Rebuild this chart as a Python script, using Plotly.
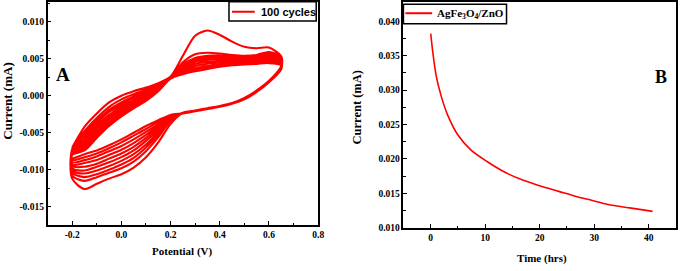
import plotly.graph_objects as go

# ---------------- Panel A: cyclic voltammetry (100 cycles) ----------------
E_forward = [-0.20, -0.15, -0.10, -0.05, 0.00, 0.05, 0.10, 0.15, 0.20,
             0.25, 0.30, 0.35, 0.40, 0.45, 0.50, 0.55, 0.60, 0.65]
E_reverse = [0.65, 0.60, 0.55, 0.50, 0.45, 0.40, 0.35, 0.30, 0.25,
             0.20, 0.15, 0.10, 0.05, 0.00, -0.05, -0.10, -0.15, -0.20]

c1_fwd = [-0.0070, -0.0042, -0.0024, -0.0009, 0.0000, 0.0006, 0.0011, 0.0017, 0.0026,
          0.0054, 0.0081, 0.0088, 0.0082, 0.0073, 0.0066, 0.0064, 0.0065, 0.0053]
c1_rev = [0.0040, 0.0020, 0.0007, -0.0003, -0.0010, -0.0014, -0.0017, -0.0020, -0.0023,
          -0.0038, -0.0063, -0.0083, -0.0097, -0.0106, -0.0112, -0.0119, -0.0126, -0.0112]
c2_fwd = [-0.0072, -0.0048, -0.0030, -0.0015, -0.0005, 0.0002, 0.0008, 0.0015, 0.0025,
          0.0045, 0.0056, 0.0058, 0.0057, 0.0055, 0.0054, 0.0055, 0.0059, 0.0052]
c2_rev = [0.0040, 0.0020, 0.0007, -0.0003, -0.0010, -0.0014, -0.0017, -0.0020, -0.0023,
          -0.0034, -0.0056, -0.0075, -0.0089, -0.0098, -0.0104, -0.0110, -0.0115, -0.0108]
c3_fwd = [-0.0073, -0.0052, -0.0034, -0.0019, -0.0009, -0.0001, 0.0006, 0.0014, 0.0025,
          0.0042, 0.0051, 0.0054, 0.0054, 0.0053, 0.0053, 0.0054, 0.0057, 0.0051]
c3_rev = [0.0039, 0.0020, 0.0007, -0.0003, -0.0010, -0.0014, -0.0017, -0.0020, -0.0023,
          -0.0032, -0.0052, -0.0070, -0.0084, -0.0093, -0.0100, -0.0106, -0.0110, -0.0104]
c4_fwd = [-0.0074, -0.0055, -0.0037, -0.0022, -0.0012, -0.0003, 0.0004, 0.0013, 0.0025,
          0.0040, 0.0048, 0.0051, 0.0052, 0.0051, 0.0051, 0.0052, 0.0055, 0.0050]
c4_rev = [0.0039, 0.0019, 0.0006, -0.0003, -0.0010, -0.0014, -0.0017, -0.0020, -0.0023,
          -0.0031, -0.0049, -0.0066, -0.0079, -0.0088, -0.0095, -0.0101, -0.0105, -0.0101]
c6_fwd = [-0.0075, -0.0059, -0.0041, -0.0026, -0.0015, -0.0006, 0.0002, 0.0012, 0.0024,
          0.0038, 0.0046, 0.0049, 0.0050, 0.0049, 0.0050, 0.0051, 0.0053, 0.0048]
c6_rev = [0.0038, 0.0019, 0.0006, -0.0004, -0.0010, -0.0014, -0.0017, -0.0020, -0.0023,
          -0.0030, -0.0046, -0.0061, -0.0074, -0.0083, -0.0090, -0.0096, -0.0101, -0.0098]
c10_fwd = [-0.0076, -0.0062, -0.0044, -0.0029, -0.0018, -0.0008, 0.0000, 0.0011, 0.0024,
           0.0036, 0.0043, 0.0046, 0.0047, 0.0048, 0.0048, 0.0049, 0.0051, 0.0047]
c10_rev = [0.0038, 0.0019, 0.0006, -0.0004, -0.0010, -0.0015, -0.0018, -0.0020, -0.0024,
           -0.0029, -0.0043, -0.0057, -0.0069, -0.0078, -0.0085, -0.0092, -0.0096, -0.0095]
c20_fwd = [-0.0077, -0.0065, -0.0048, -0.0032, -0.0020, -0.0011, -0.0002, 0.0010, 0.0024,
           0.0034, 0.0040, 0.0043, 0.0045, 0.0046, 0.0046, 0.0047, 0.0049, 0.0045]
c20_rev = [0.0037, 0.0018, 0.0005, -0.0004, -0.0011, -0.0015, -0.0018, -0.0021, -0.0024,
           -0.0028, -0.0041, -0.0053, -0.0064, -0.0073, -0.0080, -0.0087, -0.0091, -0.0093]
c35_fwd = [-0.0078, -0.0068, -0.0051, -0.0036, -0.0023, -0.0013, -0.0004, 0.0008, 0.0023,
           0.0032, 0.0037, 0.0040, 0.0042, 0.0044, 0.0045, 0.0046, 0.0047, 0.0044]
c35_rev = [0.0037, 0.0018, 0.0005, -0.0005, -0.0011, -0.0015, -0.0018, -0.0021, -0.0024,
           -0.0027, -0.0038, -0.0049, -0.0059, -0.0068, -0.0075, -0.0082, -0.0087, -0.0090]
c60_fwd = [-0.0079, -0.0071, -0.0054, -0.0038, -0.0026, -0.0015, -0.0005, 0.0007, 0.0023,
           0.0030, 0.0035, 0.0038, 0.0041, 0.0042, 0.0043, 0.0044, 0.0045, 0.0042]
c60_rev = [0.0036, 0.0018, 0.0005, -0.0005, -0.0011, -0.0015, -0.0018, -0.0021, -0.0024,
           -0.0027, -0.0035, -0.0045, -0.0054, -0.0063, -0.0071, -0.0078, -0.0083, -0.0087]
c100_fwd = [-0.0080, -0.0074, -0.0057, -0.0041, -0.0028, -0.0017, -0.0007, 0.0006, 0.0023,
            0.0029, 0.0033, 0.0036, 0.0039, 0.0041, 0.0042, 0.0043, 0.0044, 0.0041]
c100_rev = [0.0036, 0.0018, 0.0005, -0.0005, -0.0011, -0.0015, -0.0018, -0.0021, -0.0024,
            -0.0026, -0.0033, -0.0041, -0.0050, -0.0059, -0.0067, -0.0074, -0.0079, -0.0085]

cv_cycles = [(c1_fwd, c1_rev), (c2_fwd, c2_rev), (c3_fwd, c3_rev), (c4_fwd, c4_rev),
             (c6_fwd, c6_rev), (c10_fwd, c10_rev), (c20_fwd, c20_rev),
             (c35_fwd, c35_rev), (c60_fwd, c60_rev), (c100_fwd, c100_rev)]

cv_xticks = [-0.2, 0.0, 0.2, 0.4, 0.6, 0.8]
cv_xticklabels = ["-0.2", "0.0", "0.2", "0.4", "0.6", "0.8"]
cv_yticks = [-0.015, -0.010, -0.005, 0.000, 0.005, 0.010]
cv_yticklabels = ["-0.015", "-0.010", "-0.005", "0.000", "0.005", "0.010"]
cv_legend_label = "100 cycles"

# ---------------- Panel B: current vs time ----------------
time_hrs = [0.0, 0.4, 1.0, 1.9, 3.1, 4.9, 7.4, 10.4, 12.0, 14.3, 17.0, 20.4,
            23.5, 26.5, 29.5, 32.5, 36.5, 40.7]
current_mA = [0.0382, 0.0354, 0.0321, 0.0292, 0.0264, 0.0236, 0.0213, 0.0196, 0.0188,
              0.0178, 0.0169, 0.0160, 0.0153, 0.0146, 0.0140, 0.0134, 0.0129, 0.0124]
t_xticks = [0, 10, 20, 30, 40]
t_yticks = [0.010, 0.015, 0.020, 0.025, 0.030, 0.035, 0.040]
t_yticklabels = ["0.010", "0.015", "0.020", "0.025", "0.030", "0.035", "0.040"]
t_legend_label = "AgFe<sub>3</sub>O<sub>4</sub>/ZnO"

W, H = 685, 271
RED = "#ff0000"
SERIF = "Liberation Serif"

cv_x, cv_y = [], []
for fwd, rev in cv_cycles:
    cv_x += E_forward + E_reverse
    cv_y += fwd + rev

fig = go.Figure()
fig.add_trace(go.Scatter(
    x=cv_x, y=cv_y, mode="lines", name=cv_legend_label, showlegend=False,
    line=dict(color=RED, width=2.1, shape="spline", smoothing=0.8),
    xaxis="x", yaxis="y"))
fig.add_trace(go.Scatter(
    x=time_hrs, y=current_mA, mode="lines", name=t_legend_label, showlegend=False,
    line=dict(color=RED, width=1.6, shape="spline", smoothing=0.7),
    xaxis="x2", yaxis="y2"))


def axis(**kw):
    d = dict(showline=True, linewidth=1.5, linecolor="black", mirror=True,
             ticks="inside", ticklen=4, tickwidth=1.2, tickcolor="black",
             showgrid=False, zeroline=False,
             tickfont=dict(family=SERIF, size=9.5, color="black", weight="bold"))
    d.update(kw)
    return d


def px_x(p):
    return p / W


def px_y(p):
    return 1 - p / H


fig.update_layout(
    width=W, height=H, margin=dict(l=0, r=0, t=0, b=0),
    paper_bgcolor="white", plot_bgcolor="white", showlegend=False,
    xaxis=axis(domain=[px_x(48), px_x(321)], range=[-0.3, 0.8], anchor="y",
               tickmode="array", tickvals=cv_xticks, ticktext=cv_xticklabels,
               minor=dict(ticks="inside", ticklen=2.5, tickwidth=1, tickcolor="black",
                          tick0=0, dtick=0.1)),
    yaxis=axis(domain=[px_y(229), px_y(1)], range=[-0.01745, 0.01265], anchor="x",
               tickmode="array", tickvals=cv_yticks, ticktext=cv_yticklabels,
               minor=dict(ticks="inside", ticklen=2.5, tickwidth=1, tickcolor="black",
                          tick0=0, dtick=0.0025)),
    xaxis2=axis(domain=[px_x(407), px_x(682)], range=[-5, 45], anchor="y2",
                tickmode="array", tickvals=t_xticks,
                minor=dict(ticks="inside", ticklen=2.5, tickwidth=1, tickcolor="black",
                           tick0=0, dtick=5)),
    yaxis2=axis(domain=[px_y(232), px_y(1)], range=[0.010, 0.0428], anchor="x2",
                tickmode="array", tickvals=t_yticks, ticktext=t_yticklabels,
                minor=dict(ticks="inside", ticklen=2.5, tickwidth=1, tickcolor="black",
                           tick0=0, dtick=0.0025)),
)

# legend boxes (drawn as shapes + text to match the compact original legend)
legend_boxes = [
    dict(box=(231, 0.8, 319, 20.5), line=(234, 257, 11),
         text=cv_legend_label, text_x=261, text_y=11.5,
         font=dict(family="Liberation Sans", size=11, color="black", weight="bold")),
    dict(box=(407, 3.3, 511, 23.3), line=(409, 436, 12.5),
         text=t_legend_label, text_x=439, text_y=13,
         font=dict(family=SERIF, size=11, color="black", weight="bold")),
]
for lb in legend_boxes:
    x0, y0, x1, y1 = lb["box"]
    fig.add_shape(type="rect", xref="paper", yref="paper", layer="above",
                  x0=px_x(x0), x1=px_x(x1), y0=px_y(y1), y1=px_y(y0),
                  line=dict(color="black", width=1.5), fillcolor="white")
    lx0, lx1, ly = lb["line"]
    fig.add_shape(type="line", xref="paper", yref="paper", layer="above",
                  x0=px_x(lx0), x1=px_x(lx1), y0=px_y(ly), y1=px_y(ly),
                  line=dict(color=RED, width=2))
    fig.add_annotation(xref="paper", yref="paper", xanchor="left", yanchor="middle",
                       x=px_x(lb["text_x"]), y=px_y(lb["text_y"]), text=lb["text"],
                       showarrow=False, font=lb["font"])

title_font = dict(family=SERIF, size=11, color="black", weight="bold")
annos = [
    dict(text="Potential (V)", x=px_x(184.5), y=px_y(256), font=title_font),
    dict(text="Time (hrs)", x=px_x(547), y=px_y(263), font=title_font),
    dict(text="Current (mA)", x=px_x(8), y=px_y(102), textangle=-90,
         font=dict(family=SERIF, size=13, color="black", weight="bold")),
    dict(text="Current (mA)", x=px_x(360), y=px_y(109), textangle=-90,
         font=dict(family=SERIF, size=12.5, color="black", weight="bold")),
    dict(text="A", x=px_x(63.5), y=px_y(75), font=dict(family=SERIF, size=19, color="black", weight="bold")),
    dict(text="B", x=px_x(666.5), y=px_y(78), font=dict(family=SERIF, size=18, color="black", weight="bold")),
]
for a in annos:
    fig.add_annotation(xref="paper", yref="paper", xanchor="center", yanchor="middle",
                       showarrow=False, **a)

fig.write_html("out.html", config={"displayModeBar": False},
               post_script="document.body.style.margin='0';")
